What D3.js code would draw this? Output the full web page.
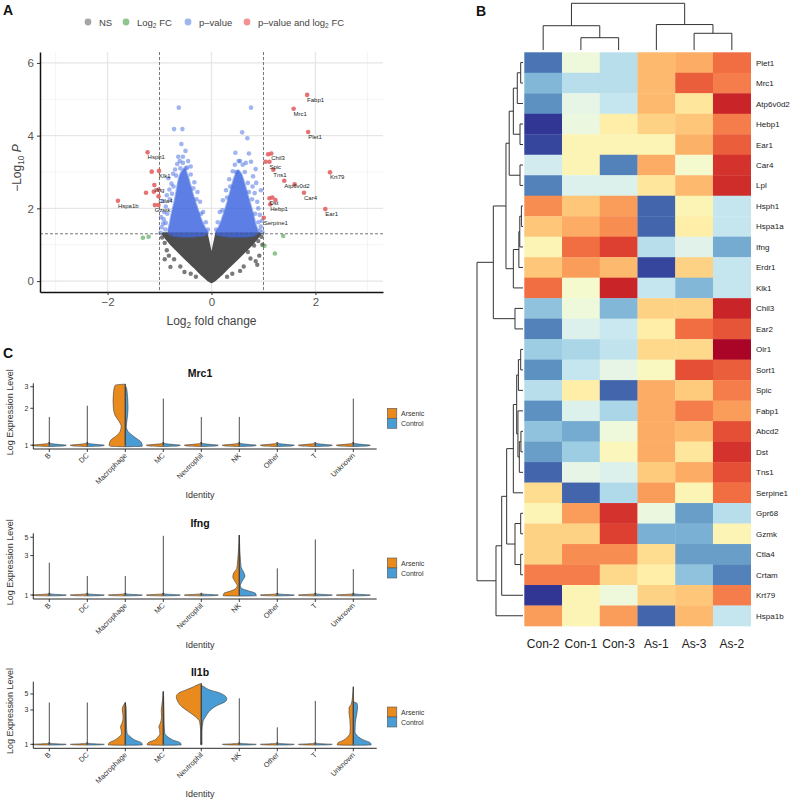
<!DOCTYPE html>
<html><head><meta charset="utf-8">
<script src="https://cdn.jsdelivr.net/npm/d3@7"></script>
<style>
body{margin:0;background:#fff}
svg{display:block}
text{font-family:"Liberation Sans",Arial,sans-serif}
</style>
</head><body>
<svg id="fig" width="800" height="802"></svg>
<script>
// ================= DATA =================
// ---- Panel A: volcano ----
const volcLegendLabels = ["NS", "Log2 FC", "p–value", "p–value and log2 FC"];
const volcColors = ["#4d4d4d", "#228b22", "#4169e1", "#e8262b"];
const volcXMajor = [-2, 0, 2];
const volcXMinor = [-3, -1, 1, 3];
const volcYMajor = [0, 2, 4, 6];
const volcYMinor = [1, 3, 5];
const fcCutoff = 1;
const pCutoffLog = 1.301; // -log10(0.05)

// dense clouds (outline of the overplotted point mass), [log2FC, -log10P]
const grayCloud = [[-0.93,1.3],[-0.85,1.15],[-0.76,1.0],[-0.62,0.8],[-0.48,0.6],[-0.33,0.4],[-0.19,0.2],[-0.06,0.03],[0,-0.02],[0.06,0.03],[0.19,0.2],[0.33,0.4],[0.48,0.6],[0.62,0.8],[0.76,1.0],[0.85,1.15],[0.93,1.3],[0.1,1.3],[0.04,0.9],[0,0.6],[-0.04,0.9],[-0.1,1.3]];
const blueCloudLeft = [[-0.82,1.3],[-0.8,1.6],[-0.76,1.9],[-0.71,2.2],[-0.67,2.5],[-0.63,2.8],[-0.58,3.0],[-0.52,3.08],[-0.46,2.9],[-0.4,2.6],[-0.34,2.3],[-0.27,2.0],[-0.2,1.7],[-0.12,1.45],[-0.07,1.3]];
const blueCloudRight = [[0.08,1.3],[0.13,1.45],[0.2,1.7],[0.27,2.0],[0.33,2.3],[0.39,2.6],[0.44,2.85],[0.51,3.05],[0.57,2.95],[0.62,2.75],[0.67,2.5],[0.73,2.2],[0.79,1.9],[0.84,1.6],[0.88,1.3]];

// individual points
const nsPoints = [[-0.79,0.39],[-0.72,0.6],[-0.86,0.85],[-0.9,1.05],[-0.95,1.2],[-0.68,0.95],[-0.82,0.7],[-0.6,0.4],[-0.52,0.25],[0.88,0.45],[0.82,0.98],[0.9,1.1],[0.96,1.22],[0.75,0.62],[0.7,0.8],[0.62,0.4],[0.55,0.28],[0.92,0.7],[0.85,0.55],[-0.9,0.6],[0.98,1.0],[-0.4,0.2],[0.4,0.2],[-0.3,0.12],[0.3,0.12]];
const fcPoints = [[-1.32,1.19],[-1.21,1.22],[1.38,1.24],[1.02,0.97],[1.22,0.76]];
const pPoints = [[-0.98,1.33],[-0.96,1.48],[-0.93,1.58],[-0.97,1.76],[-0.91,1.9],[-0.88,2.05],[-0.94,2.2],[-0.86,2.36],[-0.81,2.52],[-0.77,2.68],[-0.83,2.83],[-0.74,2.95],[-0.7,3.07],[-0.66,3.22],[-0.61,3.3],[-0.55,3.42],[-0.5,3.58],[-0.64,3.42],[-0.58,3.77],[-0.72,4.18],[-0.56,4.18],[-0.63,4.77],[-0.47,3.12],[-0.4,2.93],[-0.33,2.72],[-0.27,2.45],[-0.22,2.18],[-0.16,1.9],[-0.11,1.62],[-0.07,1.42],[-0.89,1.42],[-0.92,1.7],[-0.85,1.85],[-0.8,2.25],[-0.76,2.4],[-0.55,3.25],[-0.45,3.3],[-0.4,3.15],[-0.35,2.55],[-0.29,2.25],[-0.2,1.85],[-0.88,1.6],[-0.6,3.1],[-0.68,2.9],[-0.73,2.6],[-0.5,3.1],
  [0.98,1.34],[0.95,1.5],[0.97,1.66],[0.93,1.82],[0.9,2.0],[0.88,2.18],[0.83,2.42],[0.86,2.7],[0.8,2.88],[0.85,3.08],[0.72,3.51],[0.46,3.53],[0.69,3.93],[0.59,4.09],[0.76,4.77],[0.76,3.28],[0.66,3.25],[0.52,3.3],[0.41,3.02],[0.34,2.8],[0.28,2.5],[0.22,2.22],[0.16,1.9],[0.12,1.62],[0.09,1.42],[0.95,2.5],[0.79,2.6],[0.93,1.4],[0.9,1.62],[0.84,1.85],[0.78,2.25],[0.72,2.45],[0.6,3.2],[0.55,3.3],[0.45,3.2],[0.36,2.6],[0.3,2.3],[0.21,1.95],[0.64,3.0],[0.7,2.7],[0.48,3.0]];
// significant genes: [log2FC, -log10P, label]
const sigPoints = [
  [1.84,5.12,"Fabp1"],[1.58,4.74,"Mrc1"],[1.86,4.10,"Plet1"],
  [1.15,3.51,"Chil3"],[1.09,3.49,""],[1.115,3.28,"Spic"],[1.04,3.28,""],
  [1.19,3.06,"Tns1"],[1.40,2.76,"Atp6v0d2"],[1.60,2.66,""],[1.78,2.43,"Car4"],
  [2.28,2.99,"Krt79"],[2.19,1.98,"Ear1"],
  [1.115,2.28,"Dst"],[1.13,2.11,"Hebp1"],[1.17,2.30,""],[1.23,2.23,""],
  [1.006,1.74,"Serpine1"],
  [-1.23,3.54,"Hsph1"],[-1.01,3.03,"Klk1"],[-1.15,3.01,""],[-1.10,2.64,"Ifng"],
  [-1.26,2.43,""],[-1.11,2.46,""],[-1.02,2.51,""],[-1.02,2.33,"Ctla4"],
  [-1.09,2.09,"Gzmk"],[-1.02,2.09,""],[-1.80,2.21,"Hspa1b"]
];

// ---- Panel B: heatmap ----
const heatSamples = ["Con-2","Con-1","Con-3","As-1","As-3","As-2"];
const heatGenes = ["Plet1","Mrc1","Atp6v0d2","Hebp1","Ear1","Car4","Lpl","Hsph1","Hspa1a","Ifng","Erdr1","Klk1","Chil3","Ear2","Olr1","Sort1","Spic","Fabp1","Abcd2","Dst","Tns1","Serpine1","Gpr68","Gzmk","Ctla4","Crtam","Krt79","Hspa1b"];
const heatValues = [
  [-0.8,-0.1,-0.35,0.35,0.4,0.6],
  [-0.55,-0.35,-0.35,0.35,0.65,0.55],
  [-0.7,-0.15,-0.3,0.35,0.15,0.85],
  [-1.0,-0.12,0.1,0.25,0.3,0.55],
  [-0.95,0.05,0.05,0.05,0.38,0.65],
  [-0.25,0.05,-0.75,0.4,-0.05,0.8],
  [-0.75,-0.2,-0.2,0.15,0.35,0.82],
  [0.5,0.3,0.45,-0.85,0.05,-0.3],
  [0.3,0.4,0.5,-0.85,0.1,-0.3],
  [0.05,0.6,0.75,-0.35,-0.18,-0.6],
  [0.3,0.45,0.35,-0.95,0.25,-0.3],
  [0.6,-0.05,0.85,-0.3,-0.55,-0.3],
  [-0.5,-0.1,-0.55,0.25,0.25,0.85],
  [-0.75,-0.2,-0.28,0.1,0.6,0.68],
  [-0.45,-0.4,-0.32,0.22,0.22,0.98],
  [-0.7,-0.3,-0.15,0.0,0.7,0.65],
  [-0.35,0.1,-0.85,0.4,0.28,0.55],
  [-0.7,-0.2,-0.4,0.4,0.55,0.45],
  [-0.5,-0.6,-0.1,0.4,0.35,0.7],
  [-0.65,-0.45,0.02,0.4,0.15,0.8],
  [-0.85,-0.15,-0.2,0.28,0.4,0.7],
  [0.2,-0.85,-0.38,0.45,0.05,0.6],
  [0.05,0.45,0.8,-0.12,-0.65,-0.35],
  [0.25,0.25,0.75,-0.58,-0.58,0.05],
  [0.25,0.5,0.5,0.2,-0.65,-0.65],
  [0.55,0.55,0.22,0.1,-0.5,-0.75],
  [-1.0,0.05,-0.1,0.25,0.3,0.55],
  [0.45,0.05,0.45,-0.85,0.35,-0.3]
];
// dendrograms: [height, left, right]; leaves are names
const rowTree = [10,
  [6.45,
    [3.7,
      [3.0, [2.1, [1.24, [0.5,"Plet1","Mrc1"], "Atp6v0d2"], [0.65,"Hebp1","Ear1"]], [0.65,"Car4","Lpl"]],
      [2.1, [0.9, [0.7, [0.35,"Hsph1","Hspa1a"], "Ifng"], "Erdr1"], "Klk1"]],
    [1.74,"Chil3","Ear2"]],
  [5.87,
    [4.63,
      [3.55,
        [2.1, [1.37, [1.0, [0.5,"Olr1","Sort1"], "Spic"], [1.1,"Fabp1",[0.8,[0.45,"Abcd2","Dst"],"Tns1"]]], "Serpine1"],
        [1.74, [0.5,"Gpr68","Gzmk"], [0.5,"Ctla4","Crtam"]]],
      "Krt79"],
    "Hspa1b"]];
const colTree = [10, [5.2,"Con-2",[2.63,"Con-1","Con-3"]], [5.45,"As-1",[3.58,"As-3","As-2"]]];

// ---- Panel C: violins ----
const cellTypes = ["B","DC","Macrophage","MC","Neutrophil","NK","Other","T","Unknown"];
const groups = ["Arsenic","Control"];
const groupColors = ["#e98a1f","#4a9cd4"];
const mrc1Max = [1.7,2.1,3.15,2.4,1.7,1.7,1.02,1.03,2.4];
const ifngMax = [2.46,1.7,1.7,5.2,1.03,5.3,2.1,4.7,2.06];
const il1bMax = [3.8,3.8,3.8,5.4,7.0,4.35,1.72,4.0,6.3];
const mrc1Ticks = [1,2,3], ifngTicks = [1,3,5], il1bTicks = [1,3,5];
// [expression, density]
const flatProfile = [[0.975,0],[0.985,0.85],[1.0,1.0],[1.012,0.6],[1.03,0.1],[1.06,0]];
const mrc1Profiles = {
  Macrophage: {
    Arsenic: [[0.97,0],[0.98,0.9],[1.0,0.95],[1.1,0.85],[1.2,0.5],[1.3,0.3],[1.42,0.24],[1.55,0.35],[1.75,0.6],[2.0,0.7],[2.3,0.72],[2.6,0.7],[2.9,0.66],[3.1,0.58],[3.15,0]],
    Control: [[0.97,0],[0.98,1.0],[1.05,0.95],[1.15,0.6],[1.3,0.15],[1.42,0.06],[1.6,0.1],[2.0,0.16],[2.5,0.13],[2.9,0.08],[3.05,0]]
  }
};
const ifngProfiles = {
  NK: {
    Arsenic: [[0.97,0],[0.98,0.95],[1.05,0.9],[1.12,0.5],[1.2,0.2],[1.3,0.12],[1.45,0.25],[1.65,0.38],[1.85,0.33],[2.1,0.15],[2.6,0.1],[3.2,0.06],[4,0.03],[5.3,0]],
    Control: [[0.97,0],[0.98,1],[1.05,0.95],[1.12,0.55],[1.2,0.15],[1.3,0.06],[1.45,0.15],[1.7,0.33],[1.9,0.25],[2.2,0.1],[2.8,0.06],[3.5,0.03],[5.3,0]]
  }
};
const il1bProfiles = {
  Macrophage: {
    Arsenic: [[0.97,0],[0.98,1.0],[1.05,0.95],[1.15,0.6],[1.28,0.35],[1.4,0.22],[1.6,0.25],[1.75,0.28],[1.95,0.2],[2.3,0.13],[2.8,0.16],[3.1,0.18],[3.5,0.1],[3.8,0]],
    Control: [[0.97,0],[0.98,1],[1.05,0.95],[1.15,0.55],[1.28,0.28],[1.45,0.1],[1.8,0.07],[2.5,0.06],[3.2,0.05],[3.8,0]]
  },
  MC: {
    Arsenic: [[0.97,0],[0.98,0.95],[1.05,0.9],[1.15,0.5],[1.28,0.3],[1.4,0.2],[1.6,0.22],[1.75,0.26],[1.95,0.18],[2.4,0.1],[2.9,0.12],[3.3,0.1],[4.2,0.04],[5.4,0]],
    Control: [[0.97,0],[0.98,1.05],[1.05,1.0],[1.15,0.55],[1.28,0.25],[1.45,0.08],[2,0.05],[3,0.04],[4.5,0.02],[5.4,0]]
  },
  Neutrophil: {
    Arsenic: [[0.98,0],[1.0,0.05],[1.1,0.04],[1.5,0.04],[2.06,0.1],[2.42,0.35],[2.84,0.75],[3.33,1.15],[4.0,1.4],[4.58,1.47],[5.2,1.3],[5.68,0.9],[6.3,0.45],[6.8,0.15],[7.0,0]],
    Control: [[0.98,0],[1.0,0.05],[1.1,0.04],[1.5,0.04],[2.06,0.1],[2.42,0.25],[2.84,0.45],[3.33,0.8],[4.0,1.45],[4.3,1.5],[5.2,1.05],[5.68,0.5],[6.3,0.15],[6.6,0]]
  },
  Unknown: {
    Arsenic: [[0.97,0],[0.98,0.95],[1.05,0.9],[1.15,0.55],[1.3,0.3],[1.4,0.2],[1.7,0.18],[2.2,0.2],[2.7,0.25],[3.2,0.25],[3.6,0.12],[4.5,0.05],[6.3,0]],
    Control: [[0.97,0],[0.98,1.05],[1.05,1.0],[1.15,0.6],[1.3,0.25],[1.5,0.1],[2.0,0.12],[2.6,0.2],[3.3,0.25],[3.7,0.22],[3.9,0]]
  }
};

// ================= DRAWING =================
const svg = d3.select("#fig");
svg.append("rect").attr("width",800).attr("height",802).attr("fill","#fff");

function panelLabel(t,x,y){
  svg.append("text").attr("x",x).attr("y",y).attr("font-size",14).attr("font-weight","bold").attr("fill","#111").text(t);
}
panelLabel("A",3,15); panelLabel("B",476,16); panelLabel("C",3,358);

function subText(sel, parts){
  parts.forEach(p=>{
    const t = sel.append("tspan").text(p.t);
    if(p.sub){ t.attr("font-size","70%").attr("dy",p.dy||3); }
    if(p.up){ t.attr("dy",-p.up); }
    if(p.italic){ t.attr("font-style","italic"); }
  });
}

// ---------- Panel A ----------
(function(){
  const g = svg.append("g");
  const xV = d3.scaleLinear().domain([-3.3,3.3]).range([40,383]);
  const yV = d3.scaleLinear().domain([-0.3,6.3]).range([292,52]);
  const [x0,x1] = xV.range(), [yb,yt] = yV.range();
  volcXMinor.forEach(v=>g.append("line").attr("x1",xV(v)).attr("x2",xV(v)).attr("y1",yt).attr("y2",yb).attr("stroke","#f0f0f0").attr("stroke-width",0.7));
  volcYMinor.forEach(v=>g.append("line").attr("y1",yV(v)).attr("y2",yV(v)).attr("x1",x0).attr("x2",x1).attr("stroke","#f0f0f0").attr("stroke-width",0.7));
  volcXMajor.forEach(v=>g.append("line").attr("x1",xV(v)).attr("x2",xV(v)).attr("y1",yt).attr("y2",yb).attr("stroke","#e6e6e6").attr("stroke-width",1.3));
  volcYMajor.forEach(v=>g.append("line").attr("y1",yV(v)).attr("y2",yV(v)).attr("x1",x0).attr("x2",x1).attr("stroke","#e6e6e6").attr("stroke-width",1.3));

  const line = d3.line().x(d=>xV(d[0])).y(d=>yV(d[1])).curve(d3.curveCatmullRomClosed.alpha(0.5));
  g.append("path").attr("d",d3.line().x(d=>xV(d[0])).y(d=>yV(d[1])).curve(d3.curveLinearClosed)(grayCloud))
    .attr("fill",volcColors[0]).attr("stroke",volcColors[0]).attr("stroke-width",3).attr("stroke-linejoin","round");
  nsPoints.forEach(p=>g.append("circle").attr("cx",xV(p[0])).attr("cy",yV(p[1])).attr("r",2.2).attr("fill",volcColors[0]).attr("opacity",0.75));
  [blueCloudLeft, blueCloudRight].forEach(c=>{
    g.append("path").attr("d",line(c)).attr("fill",volcColors[2]).attr("opacity",0.85)
      .attr("stroke",volcColors[2]).attr("stroke-width",2).attr("stroke-opacity",0.6);
  });
  pPoints.forEach(p=>g.append("circle").attr("cx",xV(p[0])).attr("cy",yV(p[1])).attr("r",2.3).attr("fill",volcColors[2]).attr("opacity",0.5));
  fcPoints.forEach(p=>g.append("circle").attr("cx",xV(p[0])).attr("cy",yV(p[1])).attr("r",2.3).attr("fill",volcColors[1]).attr("opacity",0.5));

  [-fcCutoff, fcCutoff].forEach(v=>g.append("line").attr("x1",xV(v)).attr("x2",xV(v)).attr("y1",yt).attr("y2",yb)
    .attr("stroke","#555").attr("stroke-width",0.8).attr("stroke-dasharray","3,2"));
  g.append("line").attr("x1",x0).attr("x2",x1).attr("y1",yV(pCutoffLog)).attr("y2",yV(pCutoffLog))
    .attr("stroke","#555").attr("stroke-width",0.8).attr("stroke-dasharray","3,2");

  sigPoints.forEach(p=>g.append("circle").attr("cx",xV(p[0])).attr("cy",yV(p[1])).attr("r",2.3).attr("fill","#e25a5c").attr("opacity",0.85));
  sigPoints.filter(p=>p[2]).forEach(p=>g.append("text").attr("x",xV(p[0])).attr("y",yV(p[1])+7)
    .attr("font-size",6).attr("fill","#222").text(p[2]));

  const fmt = d=> d<0 ? "−"+Math.abs(d) : String(d);
  const ax = g.append("g").attr("transform",`translate(0,${yb})`)
    .call(d3.axisBottom(xV).tickValues(volcXMajor).tickSize(3).tickSizeOuter(0).tickFormat(fmt));
  ax.select(".domain").attr("stroke","#111").attr("stroke-width",1.5);
  ax.selectAll(".tick line").attr("stroke","#333");
  ax.selectAll(".tick text").attr("font-size",11.5).attr("fill","#555").attr("font-family","Liberation Sans, Arial");
  const ay = g.append("g").attr("transform",`translate(${x0},0)`)
    .call(d3.axisLeft(yV).tickValues(volcYMajor).tickSize(3).tickSizeOuter(0).tickFormat(fmt));
  ay.select(".domain").attr("stroke","#111").attr("stroke-width",1.5);
  ay.selectAll(".tick line").attr("stroke","#333");
  ay.selectAll(".tick text").attr("font-size",11.5).attr("fill","#555").attr("font-family","Liberation Sans, Arial");

  const xt = g.append("text").attr("x",(x0+x1)/2).attr("y",325).attr("text-anchor","middle").attr("font-size",12).attr("fill","#444");
  subText(xt,[{t:"Log"},{t:"2",sub:true,dy:3},{t:" fold change",up:3}]);
  const yt2 = g.append("text").attr("transform",`translate(21,${(yt+yb)/2 - 4}) rotate(-90)`).attr("text-anchor","middle").attr("font-size",12).attr("fill","#444");
  subText(yt2,[{t:"−Log"},{t:"10",sub:true,dy:3},{t:" "},{t:"P",italic:true,up:3}]);

  const legX = [88,126,188,247];
  volcLegendLabels.forEach((lab,i)=>{
    g.append("circle").attr("cx",legX[i]).attr("cy",22).attr("r",3.4).attr("fill",volcColors[i]).attr("opacity",0.5);
    const t = g.append("text").attr("x",legX[i]+11).attr("y",25.5).attr("font-size",9.5).attr("fill","#444");
    if(lab.includes("2")){
      const parts = lab.split("2");
      subText(t,[{t:parts[0]},{t:"2",sub:true,dy:2.5},{t:parts[1],up:2.5}]);
    } else t.text(lab);
  });
})();

// ---------- Panel B ----------
(function(){
  const g = svg.append("g");
  const xH = d3.scaleBand().domain(heatSamples).range([524.3,750.7]);
  const yH = d3.scaleBand().domain(heatGenes).range([52.3,626]);
  const color = d3.scaleSequential(d3.interpolateRdYlBu).domain([1,-1]);
  heatGenes.forEach((gene,i)=>heatSamples.forEach((s,j)=>{
    g.append("rect").attr("x",xH(s)).attr("y",yH(gene)).attr("width",xH.bandwidth()+0.3).attr("height",yH.bandwidth()+0.3)
      .attr("fill",color(heatValues[i][j]));
  }));
  heatGenes.forEach(gene=>g.append("text").attr("x",756).attr("y",yH(gene)+yH.bandwidth()/2+3)
    .attr("font-size",8).attr("fill","#222").text(gene));
  heatSamples.forEach(s=>g.append("text").attr("x",xH(s)+xH.bandwidth()/2).attr("y",648)
    .attr("text-anchor","middle").attr("font-size",12).attr("font-family","'Open Sans', 'Noto Sans', sans-serif").attr("fill","#222").text(s));

  const lines = g.append("g").attr("stroke","#333").attr("stroke-width",1);
  const hx = d3.scaleLinear().domain([0,10]).range([523,477]);
  function drawRow(node){
    if(typeof node === "string") return {pos: yH(node)+yH.bandwidth()/2, h:0};
    const a = drawRow(node[1]), b = drawRow(node[2]);
    const x = hx(node[0]);
    lines.append("line").attr("x1",x).attr("x2",x).attr("y1",a.pos).attr("y2",b.pos);
    [a,b].forEach(c=>lines.append("line").attr("x1",x).attr("x2",hx(c.h)).attr("y1",c.pos).attr("y2",c.pos));
    return {pos:(a.pos+b.pos)/2, h:node[0]};
  }
  const hy = d3.scaleLinear().domain([0,10]).range([50,3.3]);
  function drawCol(node){
    if(typeof node === "string") return {pos: xH(node)+xH.bandwidth()/2, h:0};
    const a = drawCol(node[1]), b = drawCol(node[2]);
    const y = hy(node[0]);
    lines.append("line").attr("y1",y).attr("y2",y).attr("x1",a.pos).attr("x2",b.pos);
    [a,b].forEach(c=>lines.append("line").attr("y1",y).attr("y2",hy(c.h)).attr("x1",c.pos).attr("x2",c.pos));
    return {pos:(a.pos+b.pos)/2, h:node[0]};
  }
  drawRow(rowTree); drawCol(colTree);
})();

// ---------- Panel C ----------
(function(){
  const panels = [
    {gene:"Mrc1", maxes:mrc1Max, ticks:mrc1Ticks, profiles:mrc1Profiles, domain:[0.93,3.2], bot:449, top:383.3, titleY:377, identY:498, legY:408.3},
    {gene:"Ifng", maxes:ifngMax, ticks:ifngTicks, profiles:ifngProfiles, domain:[0.895,5.58], bot:599, top:533.3, titleY:527, identY:648, legY:558},
    {gene:"Il1b", maxes:il1bMax, ticks:il1bTicks, profiles:il1bProfiles, domain:[0.88,7.4], bot:748.3, top:681.7, titleY:675.5, identY:797, legY:707}
  ];
  const xC = d3.scalePoint().domain(cellTypes).range([49.3,353.3]);
  const wS = d3.scaleLinear().domain([0,1]).range([0,17]);
  const axisX0 = 33.3, axisX1 = 376.7;
  panels.forEach(p=>{
    const g = svg.append("g");
    const y = d3.scaleLog().domain(p.domain).range([p.bot,p.top]);
    cellTypes.forEach((ct,i)=>{
      const cx = xC(ct);
      const prof = p.profiles[ct] || {Arsenic:flatProfile, Control:flatProfile};
      groups.forEach((grp,k)=>{
        const sgn = k===0 ? -1 : 1;
        const pts = prof[grp].slice().reverse();
        const area = d3.area().y(d=>y(d[0])).x0(cx).x1(d=>cx+sgn*wS(d[1])).curve(d3.curveMonotoneY);
        g.append("path").attr("d",area(pts)).attr("fill",groupColors[k])
          .attr("stroke","#3a3a3a").attr("stroke-width",0.6);
      });
      g.append("line").attr("x1",cx).attr("x2",cx).attr("y1",y(1)).attr("y2",y(p.maxes[i]))
        .attr("stroke","#3a3a3a").attr("stroke-width",0.9);
    });
    g.append("line").attr("x1",axisX0).attr("x2",axisX1).attr("y1",p.bot).attr("y2",p.bot).attr("stroke","#111").attr("stroke-width",0.9);
    g.append("line").attr("x1",axisX0).attr("x2",axisX0).attr("y1",p.top).attr("y2",p.bot).attr("stroke","#111").attr("stroke-width",0.9);
    p.ticks.forEach(t=>{
      g.append("line").attr("x1",axisX0-3).attr("x2",axisX0).attr("y1",y(t)).attr("y2",y(t)).attr("stroke","#111").attr("stroke-width",0.8);
      g.append("text").attr("x",axisX0-5).attr("y",y(t)+2.5).attr("text-anchor","end").attr("font-size",7).attr("fill","#333").text(t);
    });
    cellTypes.forEach(ct=>{
      const cx = xC(ct);
      g.append("line").attr("x1",cx).attr("x2",cx).attr("y1",p.bot).attr("y2",p.bot+3).attr("stroke","#111").attr("stroke-width",0.8);
      g.append("text").attr("transform",`translate(${cx+2},${p.bot+7}) rotate(-45)`).attr("text-anchor","end")
        .attr("font-size",7.3).attr("fill","#333").text(ct);
    });
    g.append("text").attr("x",200).attr("y",p.titleY).attr("text-anchor","middle").attr("font-size",10.5).attr("font-weight","bold").attr("fill","#111").text(p.gene);
    g.append("text").attr("x",200).attr("y",p.identY).attr("text-anchor","middle").attr("font-size",9).attr("fill","#333").text("Identity");
    g.append("text").attr("transform",`translate(13,${(p.top+p.bot)/2 - 4}) rotate(-90)`).attr("text-anchor","middle")
      .attr("font-size",9).attr("fill","#333").text("Log Expression Level");
    groups.forEach((grp,k)=>{
      g.append("rect").attr("x",387.3).attr("y",p.legY+k*10).attr("width",9.5).attr("height",10)
        .attr("fill",groupColors[k]).attr("stroke","#555").attr("stroke-width",0.6);
      g.append("text").attr("x",401).attr("y",p.legY+k*10+7.5).attr("font-size",7).attr("fill","#333").text(grp);
    });
  });
})();
</script>
</body></html>
